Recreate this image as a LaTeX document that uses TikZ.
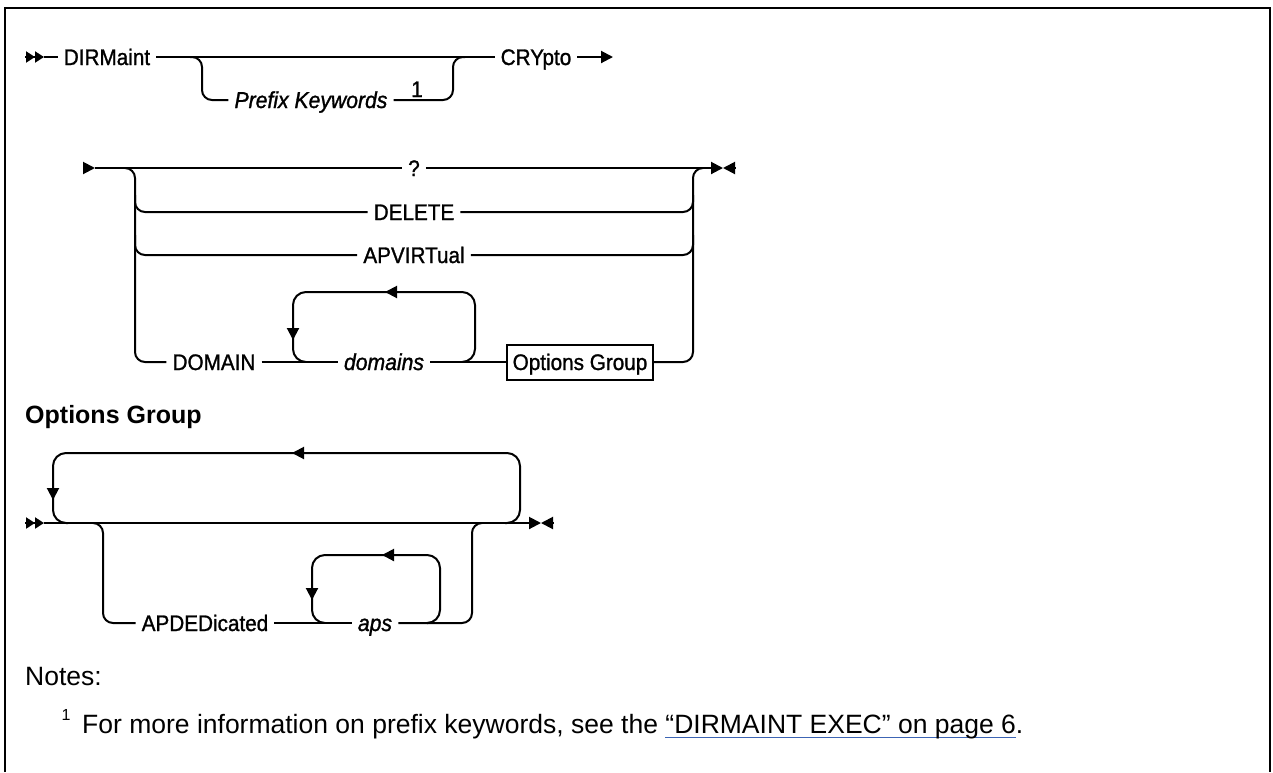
\documentclass[tikz,border=0pt]{standalone}
\usepackage{fontspec}
\setmainfont{Liberation Sans}
\newfontfamily\kwfam{Liberation Sans}[FakeStretch=0.92, FakeBold=1.2]
\usetikzlibrary{arrows.meta}
\definecolor{linkblue}{RGB}{60,100,180}
\newcommand\kwfont{\kwfam\fontsize{22.5}{26}\selectfont}
\newcommand\varfont{\kwfam\fontsize{23}{27}\selectfont\itshape}
\newcommand\linkul[1]{\setbox0\hbox{#1}\rlap{\textcolor{linkblue}{\rule[-5pt]{\wd0}{1.2pt}}}\box0}
\tikzset{
  rail/.style={line width=2pt, rounded corners=10pt},
  loopline/.style={line width=2pt, rounded corners=13pt},
  flow/.style={line width=2pt, -{Triangle[length=12pt,width=12pt]}},
  kw/.style={font=\kwfont, text height=16pt, text depth=0pt, inner xsep=6pt, inner ysep=0pt},
  var/.style={font=\varfont, text height=16pt, text depth=0pt, inner xsep=6pt, inner ysep=0pt},
}
\begin{document}
\begin{tikzpicture}[x=1pt,y=-1pt]
\useasboundingbox (0,0) rectangle (1273,772);
\draw[line width=2.2pt] (5,772) -- (5,8) -- (1270,8) -- (1270,772);

% first line
\node[kw] (dirm) at (107,57) {DIRMaint};
\node[kw] (crypto) at (536,57) {CRYpto};
\node[var] (pref) at (311,100) {Prefix Keywords};
\node[kw, anchor=base] (sup1) at (417,97) {1};
\draw[line width=2pt, -{Triangle[length=9pt,width=11pt] Triangle[length=9pt,width=11pt]}] (25,57) -- (44,57);
\draw[rail] (44,57) -- (dirm);
\draw[rail] (dirm) -- (crypto);
\draw[rail] (190,57) -| (202,100) -- (pref);
\draw[rail] (pref) -- (453,100) |- (465,57);
\draw[flow] (crypto) -- (613,57);

% second line
\node[kw] (ques) at (414,168) {?};
\node[kw] (del) at (414,212) {DELETE};
\node[kw] (apv) at (414,255) {APVIRTual};
\node[kw] (dom) at (214,362) {DOMAIN};
\node[var] (doms) at (384,362) {domains};
\node[kw, draw, line width=2pt, minimum width=146pt, minimum height=35pt, inner sep=0pt] (optbox) at (580,362) {Options Group};
\draw[flow] (83,168) -- (95,168);
\draw[rail] (95,168) -- (ques);
\draw[flow] (ques) -- (723,168);
\draw[flow] (735,168) -- (723,168);
\draw[rail] (125,168) -| (135,362) -- (dom);
\draw[rail] (135,195) |- (del);
\draw[rail] (135,235) |- (apv);
\draw[rail] (del) -| (693,195);
\draw[rail] (apv) -| (693,235);
\draw[rail] (dom) -- (doms);
\draw[rail] (doms) -- (optbox);
\draw[rail] (optbox) -- (693,362) |- (703,168);
\draw[loopline] (462,362) -- (475,362) -- (475,292) -- (293,292) -- (293,362) -- (306,362);
\draw[flow] (400,292) -- (385,292);
\draw[flow] (293,320) -- (293,340);

% options group
\node[anchor=base west, font=\fontsize{25}{30}\selectfont\bfseries, inner sep=0pt] (ogtitle) at (25,423) {Options Group};
\node[kw] (aped) at (205,623) {APDEDicated};
\node[var] (aps) at (375,623) {aps};
\draw[line width=2pt, -{Triangle[length=9pt,width=11pt] Triangle[length=9pt,width=11pt]}] (25,523) -- (44,523);
\draw[flow] (44,523) -- (541,523);
\draw[flow] (553,523) -- (541,523);
\draw[loopline] (505,523) -- (520,523) -- (520,453) -- (53,453) -- (53,523) -- (68,523);
\draw[flow] (308,453) -- (292,453);
\draw[flow] (53,478) -- (53,500);
\draw[rail] (93,523) -| (103,623) -- (aped);
\draw[rail] (aped) -- (aps);
\draw[rail] (aps) -- (472,623) |- (482,523);
\draw[loopline] (428,623) -- (440,623) -- (440,555) -- (312,555) -- (312,623) -- (325,623);
\draw[flow] (398,555) -- (382,555);
\draw[flow] (312,580) -- (312,600);

% notes
\node[anchor=base west, font=\fontsize{26.5}{30}\selectfont, inner sep=0pt] (notes) at (25,685) {Notes:};
\node[anchor=base, font=\fontsize{16}{18}\selectfont, inner sep=0pt] (fnmark) at (66,720) {1};
\node[anchor=base west, font=\fontsize{26.5}{30}\selectfont, inner sep=0pt] (fntext) at (82,733) {For more information on prefix keywords, see the \linkul{“DIRMAINT EXEC” on page 6}.};
\end{tikzpicture}
\end{document}
